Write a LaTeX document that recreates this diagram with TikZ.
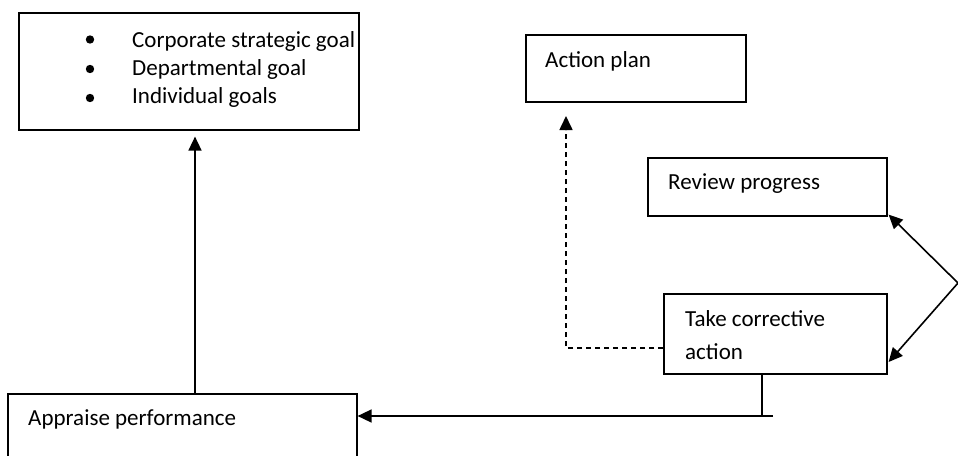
\documentclass[tikz,border=0pt]{standalone}
\usepackage{fontspec}
\setmainfont{Carlito}
\usetikzlibrary{arrows.meta,calc}
\begin{document}
\begin{tikzpicture}[x=1pt,y=-1pt,
  box/.style={draw=black,line width=1.6pt,inner sep=0pt,anchor=north west},
  lbl/.style={anchor=base west,inner sep=0pt,font=\fontsize{23}{27}\selectfont},
  conn/.style={line width=1.6pt},
  arr/.style={line width=1.6pt,-{Triangle[length=14pt,width=13pt]}},
  dsh/.style={line width=1.4pt,dash pattern=on 5pt off 4pt}]
\useasboundingbox[fill=white] (0,0) rectangle (958,455);
% boxes
\node[box,minimum width=340pt,minimum height=117pt] (goals) at (18,12) {};
\node[box,minimum width=220pt,minimum height=67pt] (plan) at (525,34) {};
\node[box,minimum width=239pt,minimum height=58pt] (review) at (647,157) {};
\node[box,minimum width=223pt,minimum height=80pt] (take) at (663,293) {};
\node[box,minimum width=349pt,minimum height=80pt] (appraise) at (7,393) {};
% texts
\fill (90,39.5) circle (4.2);
\fill (90,69) circle (4.2);
\fill (90,98) circle (4.2);
\node[lbl] (g1) at (132,47) {Corporate strategic goal};
\node[lbl] (g2) at (132,75) {Departmental goal};
\node[lbl] (g3) at (132,103) {Individual goals};
\node[lbl] (tplan) at (545,67) {Action plan};
\node[lbl] (treview) at (668,189) {Review progress};
\node[lbl] (ttake1) at (685,326) {Take corrective};
\node[lbl] (ttake2) at (685,359) {action};
\node[lbl] (tappr) at (28,425) {Appraise performance};
% helper coordinates
\coordinate (vx) at (195,0);
\coordinate (dy) at (0,348);
\coordinate (dtip) at (566,116);
\coordinate (hx) at (762,0);
\coordinate (hend) at (773,416);
\coordinate (apex) at (958,283);
\coordinate (ty) at (0,362);
% connectors
\draw[arr] (appraise.north west -| vx) -- ([yshift=-6pt]goals.south -| vx);
\draw[dsh] (take.west |- dy) -| ([yshift=-14pt]dtip);
\draw[arr] ([yshift=-12pt]dtip) -- (dtip);
\draw[conn] (take.south -| hx) -- (hend -| hx);
\draw[arr] (hend) -- (hend -| appraise.east);
\draw[arr] (apex) -- ([xshift=1pt,yshift=2pt]review.south east);
\draw[arr] (apex) -- ([xshift=1pt]take.east |- ty);
\end{tikzpicture}
\end{document}
